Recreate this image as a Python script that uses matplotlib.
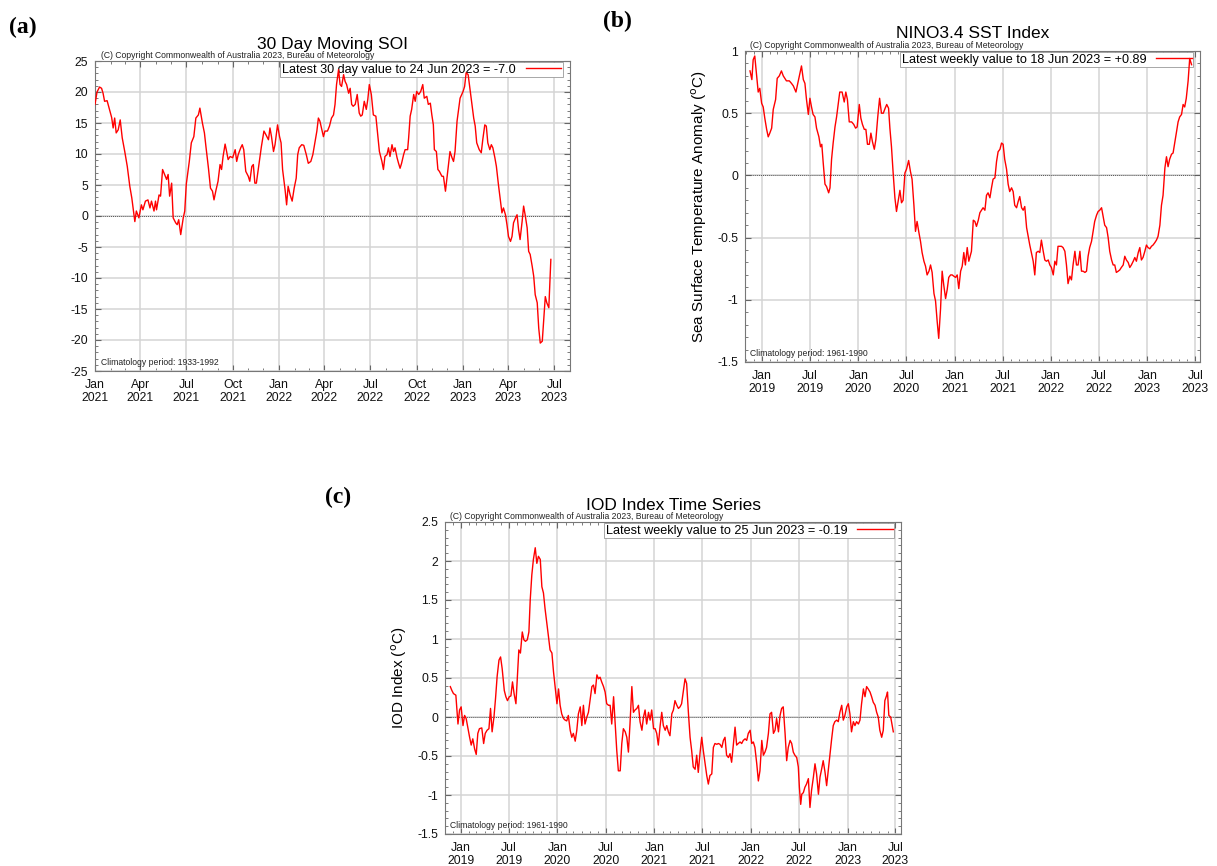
import numpy as np
import pandas as pd
import matplotlib
matplotlib.use("Agg")
import matplotlib.pyplot as plt
import matplotlib.dates as mdates
from matplotlib.ticker import MultipleLocator, FormatStrFormatter

plt.rcParams["font.family"] = ["Liberation Sans", "DejaVu Sans"]
plt.rcParams["axes.unicode_minus"] = False

# --- 30 day moving SOI (days after 1 Jan 2021) ---
soi_start = "2021-01-01"
soi_day = [0, 4, 9, 13, 16, 19, 24, 28, 33, 36, 39, 42, 46, 50, 54, 59, 64, 69, 73, 79,
           82, 87, 92, 95, 100, 105, 109, 112, 117, 120, 122, 127, 130, 134, 138, 142, 145, 148, 152, 155,
           160, 163, 166, 170, 175, 178, 181, 187, 191, 196, 200, 205, 208, 213, 217, 220, 225, 229, 233, 236,
           240, 244, 248, 251, 254, 258, 261, 264, 268, 273, 278, 281, 284, 289, 292, 295, 299, 304, 307, 311,
           314, 317, 320, 326, 330, 335, 339, 344, 347, 350, 354, 357, 362, 366, 369, 372, 377, 380, 383, 387,
           391, 395, 399, 402, 405, 410, 414, 419, 423, 428, 432, 436, 440, 443, 446, 450, 453, 456, 461, 465,
           469, 473, 476, 479, 483, 486, 489, 493, 496, 499, 503, 506, 509, 512, 516, 520, 524, 527, 530, 534,
           538, 541, 544, 548, 552, 557, 561, 564, 569, 572, 575, 579, 582, 585, 589, 592, 595, 599, 602, 605,
           608, 612, 615, 620, 622, 625, 628, 632, 635, 638, 642, 646, 650, 653, 658, 661, 665, 668, 671, 673,
           677, 680, 683, 688, 691, 695, 698, 701, 704, 708, 711, 714, 718, 721, 724, 730, 733, 736, 740, 743,
           746, 751, 754, 757, 762, 766, 769, 773, 776, 779, 783, 786, 789, 793, 796, 800, 804, 807, 810, 814,
           817, 820, 824, 827, 830, 834, 837, 840, 843, 847, 850, 853, 857, 860, 863, 867, 870, 873, 877, 880,
           883, 887, 890, 893, 896, 900, 904]
soi_val = [18.0, 20.0, 20.8, 20.6, 19.8, 18.5, 18.6, 17.4, 15.9, 14.2, 15.8, 13.4, 13.9, 15.5, 12.6, 10.4, 8.0, 4.8, 2.9, -0.9,
           0.8, -0.3, 1.8, 1.0, 2.4, 2.6, 1.3, 2.4, 0.8, 2.4, 1.0, 3.4, 3.2, 7.5, 6.7, 5.9, 6.7, 3.2, 5.3, -0.3,
           -1.1, -1.4, -0.6, -3.0, -0.3, 0.8, 5.1, 8.8, 11.8, 12.8, 15.8, 16.3, 17.4, 15.0, 13.4, 11.2, 7.7, 4.5, 4.0, 2.6,
           4.2, 5.6, 8.3, 7.5, 9.6, 11.6, 10.4, 9.1, 9.6, 9.4, 10.7, 8.8, 9.9, 11.0, 11.5, 10.7, 7.2, 6.4, 5.6, 8.0,
           8.3, 5.3, 5.3, 8.8, 11.2, 13.7, 13.1, 12.3, 14.2, 12.8, 10.4, 11.5, 14.7, 12.8, 11.8, 7.5, 4.2, 1.8, 4.8, 3.4,
           2.4, 4.5, 6.1, 9.9, 11.0, 11.5, 11.4, 9.9, 8.5, 8.8, 9.9, 11.8, 13.7, 15.8, 15.3, 13.9, 12.8, 13.7, 13.7, 14.5,
           15.8, 16.3, 18.0, 21.2, 23.6, 21.2, 20.9, 22.8, 21.7, 21.2, 19.8, 20.6, 18.0, 17.7, 18.0, 19.6, 16.6, 16.1, 16.3, 18.5,
           17.2, 18.8, 21.2, 19.6, 16.3, 16.1, 12.8, 10.4, 8.8, 7.5, 9.6, 9.9, 11.0, 9.6, 11.5, 10.4, 11.0, 9.4, 8.5, 7.7,
           8.5, 9.9, 10.7, 10.7, 12.6, 16.1, 17.2, 19.6, 18.5, 20.1, 19.6, 20.1, 21.2, 19.0, 19.3, 18.0, 18.2, 16.3, 14.7, 10.7,
           10.4, 7.5, 7.2, 6.4, 6.4, 4.0, 6.1, 8.3, 10.4, 9.4, 8.8, 10.4, 15.3, 17.2, 19.0, 20.1, 20.9, 23.1, 22.8, 20.9,
           19.0, 15.8, 14.5, 11.8, 10.7, 10.2, 12.3, 14.7, 14.5, 11.8, 10.7, 11.5, 11.0, 9.4, 8.0, 5.1, 2.4, 0.5, 1.3, 0.2,
           -1.4, -3.3, -4.1, -3.3, -1.1, -0.3, 0.2, -2.2, -3.8, -0.9, 1.6, 0.2, -1.9, -5.7, -6.2, -8.1, -9.7, -12.7, -14.0, -18.1,
           -20.5, -20.2, -16.5, -13.0, -14.0, -14.8, -7.0]

# --- NINO3.4 weekly SST anomaly (days after 1 Jan 2019) ---
nino_start = "2019-01-01"
nino_day = [-45, -38, -33, -27, -20, -14, -8, -1, 5, 11, 18, 24, 30, 37, 43, 52, 58, 66, 74, 81,
            87, 93, 104, 112, 119, 129, 138, 144, 150, 157, 163, 169, 176, 182, 188, 194, 201, 207, 216, 222,
            227, 232, 239, 245, 253, 258, 264, 270, 277, 283, 289, 295, 304, 312, 318, 324, 331, 340, 348, 355,
            361, 369, 375, 381, 388, 394, 400, 407, 413, 419, 426, 432, 439, 446, 453, 460, 467, 473, 480, 485,
            491, 497, 504, 510, 516, 523, 529, 535, 542, 548, 556, 563, 569, 576, 582, 588, 595, 601, 607, 614,
            620, 626, 633, 639, 645, 652, 658, 664, 670, 677, 683, 689, 696, 702, 708, 715, 721, 727, 734, 740,
            746, 753, 759, 765, 771, 778, 784, 794, 801, 807, 813, 820, 826, 832, 838, 845, 851, 857, 864, 870,
            876, 883, 889, 895, 902, 908, 914, 920, 927, 933, 939, 946, 952, 958, 965, 971, 977, 984, 990, 996,
            1003, 1009, 1015, 1021, 1028, 1034, 1040, 1047, 1053, 1059, 1066, 1072, 1078, 1085, 1091, 1097, 1104, 1110, 1116, 1122,
            1129, 1135, 1141, 1148, 1154, 1160, 1167, 1173, 1179, 1186, 1192, 1198, 1205, 1211, 1217, 1224, 1230, 1236, 1242, 1249,
            1255, 1261, 1268, 1274, 1280, 1287, 1293, 1299, 1306, 1312, 1318, 1325, 1331, 1337, 1343, 1350, 1356, 1362, 1369, 1375,
            1381, 1388, 1394, 1400, 1407, 1413, 1419, 1426, 1432, 1438, 1444, 1451, 1457, 1463, 1470, 1476, 1482, 1489, 1495, 1501,
            1508, 1514, 1520, 1527, 1533, 1539, 1545, 1552, 1558, 1565, 1571, 1577, 1583, 1590, 1596, 1602, 1608, 1615, 1621, 1628]
nino_val = [0.84, 0.77, 0.93, 0.96, 0.80, 0.67, 0.70, 0.58, 0.55, 0.46, 0.37, 0.31, 0.34, 0.38, 0.53, 0.61, 0.78, 0.80, 0.84, 0.80,
            0.78, 0.76, 0.76, 0.74, 0.72, 0.67, 0.76, 0.82, 0.88, 0.77, 0.74, 0.61, 0.49, 0.62, 0.55, 0.49, 0.47, 0.38, 0.31, 0.23,
            0.25, 0.11, -0.07, -0.09, -0.14, -0.10, 0.13, 0.26, 0.39, 0.47, 0.57, 0.67, 0.67, 0.59, 0.67, 0.61, 0.43, 0.43, 0.41, 0.38,
            0.39, 0.57, 0.46, 0.41, 0.37, 0.37, 0.25, 0.25, 0.34, 0.27, 0.21, 0.29, 0.47, 0.62, 0.50, 0.50, 0.54, 0.57, 0.54, 0.38,
            0.23, 0.03, -0.18, -0.29, -0.21, -0.12, -0.22, -0.20, 0.02, 0.05, 0.12, 0.03, -0.03, -0.24, -0.45, -0.37, -0.46, -0.53, -0.62, -0.69,
            -0.73, -0.80, -0.77, -0.72, -0.78, -0.95, -1.01, -1.17, -1.31, -1.07, -0.77, -0.88, -0.99, -0.92, -0.82, -0.80, -0.80, -0.81, -0.82, -0.80,
            -0.91, -0.77, -0.73, -0.62, -0.72, -0.58, -0.69, -0.61, -0.36, -0.37, -0.41, -0.36, -0.30, -0.28, -0.26, -0.28, -0.16, -0.14, -0.18, -0.10,
            -0.03, -0.02, 0.11, 0.19, 0.21, 0.26, 0.25, 0.13, 0.05, -0.07, -0.13, -0.10, -0.13, -0.24, -0.26, -0.21, -0.17, -0.26, -0.28, -0.25,
            -0.42, -0.49, -0.56, -0.62, -0.69, -0.80, -0.62, -0.61, -0.62, -0.52, -0.61, -0.68, -0.69, -0.68, -0.72, -0.74, -0.80, -0.69, -0.72, -0.57,
            -0.57, -0.57, -0.58, -0.61, -0.72, -0.87, -0.81, -0.84, -0.72, -0.61, -0.72, -0.72, -0.61, -0.77, -0.77, -0.78, -0.77, -0.65, -0.58, -0.53,
            -0.45, -0.37, -0.32, -0.29, -0.28, -0.26, -0.33, -0.40, -0.42, -0.50, -0.61, -0.68, -0.72, -0.72, -0.78, -0.77, -0.76, -0.74, -0.72, -0.65,
            -0.68, -0.70, -0.74, -0.72, -0.69, -0.66, -0.69, -0.62, -0.58, -0.68, -0.66, -0.61, -0.56, -0.58, -0.59, -0.57, -0.56, -0.54, -0.52, -0.49,
            -0.40, -0.24, -0.16, 0.06, 0.15, 0.07, 0.13, 0.17, 0.18, 0.27, 0.35, 0.43, 0.47, 0.49, 0.57, 0.55, 0.62, 0.76, 0.94, 0.89]

# --- IOD weekly index (days after 1 Jan 2019) ---
iod_start = "2019-01-01"
iod_day = [-40, -34, -28, -19, -11, -5, 1, 8, 14, 20, 26, 33, 39, 45, 52, 58, 64, 70, 79, 86,
           92, 99, 106, 112, 118, 125, 131, 137, 144, 150, 156, 164, 170, 176, 183, 189, 195, 201, 208, 214,
           219, 225, 232, 238, 244, 251, 257, 262, 268, 274, 281, 287, 293, 300, 306, 312, 318, 325, 331, 337,
           344, 350, 356, 363, 369, 375, 381, 388, 394, 400, 406, 413, 419, 425, 432, 438, 444, 451, 457, 463,
           469, 476, 482, 488, 495, 501, 507, 514, 520, 526, 532, 539, 545, 551, 558, 564, 570, 577, 583, 589,
           595, 602, 608, 614, 621, 627, 633, 639, 646, 652, 658, 665, 671, 677, 684, 690, 696, 702, 709, 715,
           721, 728, 734, 740, 746, 753, 759, 765, 772, 778, 784, 790, 797, 803, 809, 816, 822, 828, 834, 841,
           847, 853, 860, 866, 872, 878, 885, 891, 897, 904, 910, 916, 923, 929, 935, 941, 948, 954, 960, 967,
           973, 979, 986, 992, 998, 1004, 1011, 1017, 1023, 1030, 1036, 1042, 1048, 1055, 1061, 1067, 1074, 1080, 1086, 1093,
           1099, 1105, 1111, 1118, 1124, 1130, 1137, 1143, 1149, 1155, 1162, 1168, 1174, 1181, 1187, 1193, 1200, 1206, 1212, 1218,
           1225, 1231, 1237, 1244, 1250, 1256, 1262, 1269, 1275, 1279, 1284, 1288, 1294, 1300, 1306, 1313, 1319, 1325, 1332, 1338,
           1344, 1351, 1357, 1363, 1369, 1376, 1382, 1388, 1395, 1401, 1407, 1413, 1420, 1426, 1432, 1439, 1445, 1451, 1458, 1464,
           1470, 1476, 1483, 1489, 1495, 1502, 1508, 1514, 1521, 1527, 1533, 1539, 1546, 1552, 1558, 1565, 1571, 1577, 1583, 1590,
           1596, 1602, 1609, 1612, 1617, 1624, 1630, 1634]
iod_val = [0.39, 0.34, 0.30, 0.28, -0.09, 0.09, 0.13, -0.11, 0.02, -0.02, -0.13, -0.26, -0.36, -0.28, -0.41, -0.48, -0.21, -0.15, -0.14, -0.34,
           -0.21, -0.17, -0.15, 0.11, -0.19, 0.00, 0.24, 0.52, 0.73, 0.77, 0.62, 0.34, 0.26, 0.21, 0.26, 0.27, 0.45, 0.30, 0.17, 0.56,
           0.86, 0.82, 1.09, 0.99, 0.97, 0.99, 1.09, 1.50, 1.82, 2.02, 2.17, 1.97, 2.06, 2.02, 1.67, 1.59, 1.39, 1.20, 1.03, 0.86,
           0.82, 0.58, 0.39, 0.17, 0.36, 0.15, 0.04, -0.02, -0.04, -0.05, 0.02, -0.17, -0.26, -0.21, -0.31, -0.17, 0.04, 0.13, -0.11, 0.15,
           -0.09, 0.00, 0.06, 0.21, 0.39, 0.41, 0.30, 0.54, 0.49, 0.51, 0.45, 0.39, 0.32, 0.17, 0.15, 0.15, -0.09, 0.26, -0.09, -0.43,
           -0.69, -0.69, -0.34, -0.15, -0.19, -0.26, -0.45, -0.09, 0.39, 0.06, 0.09, 0.11, 0.15, -0.06, -0.17, 0.00, 0.09, -0.09, 0.06, -0.04,
           0.09, -0.15, -0.15, -0.21, -0.36, -0.11, 0.06, -0.11, -0.17, -0.11, -0.19, -0.24, 0.04, 0.09, 0.21, 0.15, 0.11, 0.13, 0.17, 0.34,
           0.49, 0.43, 0.04, -0.26, -0.43, -0.64, -0.67, -0.49, -0.71, -0.45, -0.26, -0.43, -0.60, -0.75, -0.86, -0.75, -0.73, -0.39, -0.34, -0.35,
           -0.34, -0.35, -0.39, -0.30, -0.26, -0.49, -0.52, -0.47, -0.58, -0.34, -0.13, -0.36, -0.34, -0.32, -0.34, -0.30, -0.28, -0.30, -0.21, -0.17,
           -0.34, -0.32, -0.39, -0.60, -0.82, -0.69, -0.30, -0.49, -0.45, -0.39, -0.21, 0.04, 0.06, -0.21, -0.17, -0.02, -0.19, 0.02, 0.11, 0.13,
           -0.21, -0.56, -0.39, -0.30, -0.34, -0.45, -0.49, -0.52, -0.64, -0.90, -1.12, -0.99, -0.97, -0.90, -0.86, -0.79, -1.16, -0.94, -0.77, -0.60,
           -0.73, -0.99, -0.77, -0.67, -0.56, -0.71, -0.88, -0.69, -0.47, -0.28, -0.11, -0.06, -0.04, -0.06, 0.06, 0.15, -0.04, 0.02, 0.13, 0.17,
           0.04, -0.19, -0.06, -0.11, -0.06, -0.09, -0.04, 0.17, 0.36, 0.26, 0.39, 0.36, 0.32, 0.26, 0.19, 0.15, 0.06, 0.00, -0.17, -0.26,
           -0.17, 0.21, 0.28, 0.32, 0.02, 0.00, -0.11, -0.19]

copyright = "(C) Copyright Commonwealth of Australia 2023, Bureau of Meteorology"


def to_dates(start, days):
    return pd.Timestamp(start) + pd.to_timedelta(np.array(days), unit="D")


def style_axis(ax, xlim, ylim, ystep, yminor, months, title, legend_label, clim):
    ax.set_xlim(pd.Timestamp(xlim[0]), pd.Timestamp(xlim[1]))
    ax.set_ylim(*ylim)
    ax.yaxis.set_major_locator(MultipleLocator(ystep))
    ax.yaxis.set_minor_locator(MultipleLocator(yminor))
    ax.yaxis.set_major_formatter(FormatStrFormatter("%g"))
    ax.xaxis.set_major_locator(mdates.MonthLocator(bymonth=months))
    ax.xaxis.set_minor_locator(mdates.MonthLocator())
    ax.xaxis.set_major_formatter(mdates.DateFormatter("%b\n%Y"))
    ax.tick_params(which="both", direction="in", top=True, right=True,
                   colors="#666666", labelcolor="#111111", labelsize=8.8)
    ax.tick_params(which="major", length=4)
    ax.tick_params(which="minor", length=2)
    ax.tick_params(axis="x", pad=5.5)
    ax.tick_params(axis="y", pad=5)
    for lab in ax.get_xticklabels():
        lab.set_linespacing(1.15)
    ax.grid(True, which="major", color="#d4d4d4", lw=1.1)
    ax.set_axisbelow(True)
    for s in ax.spines.values():
        s.set_color("#777777")
        s.set_linewidth(0.8)
    ax.axhline(0, color="#555555", lw=0.7, ls=(0, (1, 1)), zorder=1.5)
    ax.set_title(title, fontsize=12.5, pad=9)
    ax.text(0.012, 1.004, copyright, transform=ax.transAxes, fontsize=6.2,
            color="#222222", va="bottom", ha="left")
    ax.text(0.012, 0.012, clim, transform=ax.transAxes, fontsize=6.2,
            color="#222222", va="bottom", ha="left")
    leg = ax.legend([ax.lines[0]], [legend_label], loc="upper right",
                    bbox_to_anchor=(0.988, 1.0), markerfirst=False, fancybox=False,
                    edgecolor="#999999", framealpha=1, fontsize=9.1,
                    handlelength=2.8, handletextpad=0.8, borderpad=0.12,
                    borderaxespad=0.1)
    leg.get_frame().set_linewidth(0.6)
    leg.set_zorder(1.8)


fig = plt.figure(figsize=(12.17, 8.66), dpi=100)
W, H = 1217.0, 866.0

# (a) SOI
ax1 = fig.add_axes([95 / W, 1 - 371 / H, 474.5 / W, 310 / H])
ax1.plot(to_dates(soi_start, soi_day), soi_val, color="red", lw=1.0, zorder=3)
style_axis(ax1, ("2021-01-01", "2023-07-31"), (-25, 25), 5, 1, [1, 4, 7, 10],
           "30 Day Moving SOI", "Latest 30 day value to 24 Jun 2023 = -7.0",
           "Climatology period: 1933-1992")

# (b) NINO3.4
ax2 = fig.add_axes([745 / W, 1 - 362 / H, 455 / W, 311 / H])
ax2.plot(to_dates(nino_start, nino_day), nino_val, color="red", lw=1.0, zorder=3)
style_axis(ax2, ("2018-10-29", "2023-07-19"), (-1.5, 1), 0.5, 0.1, [1, 7],
           "NINO3.4 SST Index", "Latest weekly value to 18 Jun 2023 = +0.89",
           "Climatology period: 1961-1990")
ax2.set_ylabel(r"Sea Surface Temperature Anomaly ($^{\rm o}$C)", fontsize=11, labelpad=6)

# (c) IOD
ax3 = fig.add_axes([445 / W, 1 - 834 / H, 456 / W, 312 / H])
ax3.plot(to_dates(iod_start, iod_day), iod_val, color="red", lw=1.0, zorder=3)
style_axis(ax3, ("2018-11-02", "2023-07-22"), (-1.5, 2.5), 0.5, 0.1, [1, 7],
           "IOD Index Time Series", "Latest weekly value to 25 Jun 2023 = -0.19",
           "Climatology period: 1961-1990")
ax3.set_ylabel(r"IOD Index ($^{\rm o}$C)", fontsize=11, labelpad=6)

for lbl, (px, py) in zip(["(a)", "(b)", "(c)"], [(23, 27), (617, 21), (338, 497)]):
    fig.text(px / W, 1 - py / H, lbl, fontsize=17, fontweight="bold",
             family=["Liberation Serif", "DejaVu Serif"], ha="center", va="center")

fig.savefig("out.png", dpi=100)
